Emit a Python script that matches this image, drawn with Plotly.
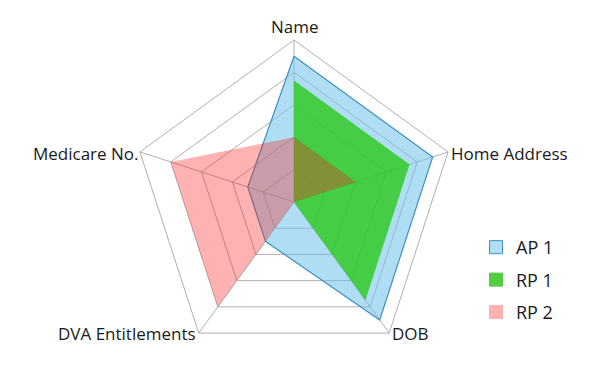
import plotly.graph_objects as go

categories = ["Name", "Home Address", "DOB", "DVA Entitlements", "Medicare No."]
ap1 = [4.5, 4.5, 4.5, 1.5, 1.5]
rp1 = [3.75, 3.75, 3.75, 0, 0]
rp2 = [2, 2, 0, 4, 4]
series_names = ["AP 1", "RP 1", "RP 2"]

def closed(v):
    return v + v[:1]

theta = closed(categories)
fills = ["rgba(110,195,235,0.55)", "rgba(40,200,20,0.78)", "rgba(255,20,20,0.33)"]
lines = ["#3f8fc4", "rgba(0,0,0,0)", "rgba(0,0,0,0)"]
legend_fill = ["#b0def4", "#55cc44", "#ffb0b0"]

W, H, OFF = 600, 374, 8  # OFF compensates the page's default body margin
cx, cy, half = 294 - OFF, 202 - OFF, 162

# label placement (screen px): x, y, xanchor
label_pos = {
    "Name": (295, 26.5, "center"),
    "Home Address": (449, 153, "left"),
    "DOB": (390, 333.5, "left"),
    "DVA Entitlements": (198, 333.5, "right"),
    "Medicare No.": (141, 153, "right"),
}

fig = go.Figure()
for name, vals, fc, lc in zip(series_names, [ap1, rp1, rp2], fills, lines):
    fig.add_trace(go.Scatterpolar(
        r=closed(vals), theta=theta, name=name, mode="lines", fill="toself",
        fillcolor=fc, line=dict(color=lc, width=1.2 if name == "AP 1" else 0),
        showlegend=False, legendgroup=name, hoverinfo="r+theta+name"))
for name, fc, lc in zip(series_names, legend_fill, lines):
    fig.add_trace(go.Scatterpolar(
        r=[None], theta=[categories[0]], name=name, mode="markers",
        marker=dict(symbol="square", size=13, color=fc,
                    line=dict(color="#3f8fc4" if name == "AP 1" else fc, width=1)),
        showlegend=True, legendgroup=name))

for cat in categories:
    x, y, xa = label_pos[cat]
    fig.add_annotation(text=cat, xref="paper", yref="paper",
                       x=(x - OFF) / W, y=1 - (y - OFF) / H,
                       xanchor=xa, yanchor="middle", showarrow=False,
                       font=dict(size=17, color="#1a1a1a"))

fig.update_layout(
    width=W, height=H,
    margin=dict(l=0, r=0, t=0, b=0, autoexpand=False),
    paper_bgcolor="white",
    font=dict(family="Open Sans", size=17, color="#1a1a1a"),
    polar=dict(
        domain=dict(x=[(cx - half) / W, (cx + half) / W],
                    y=[(H - cy - half) / H, (H - cy + half) / H]),
        bgcolor="white",
        gridshape="linear",
        radialaxis=dict(range=[0, 5], dtick=1, showticklabels=False, ticks="",
                        showline=False, gridcolor="#b0b0b0", gridwidth=1),
        angularaxis=dict(rotation=90, direction="clockwise", ticks="",
                         showticklabels=False,
                         linecolor="#b0b0b0", gridcolor="#b0b0b0", linewidth=1),
    ),
    legend=dict(x=0.78, y=1 - (280 - OFF) / H, xanchor="left", yanchor="middle",
                font=dict(size=18, color="#1a1a1a"), itemwidth=30,
                tracegroupgap=6, traceorder="grouped"),
    showlegend=True,
)

fig.write_html("out.html")
